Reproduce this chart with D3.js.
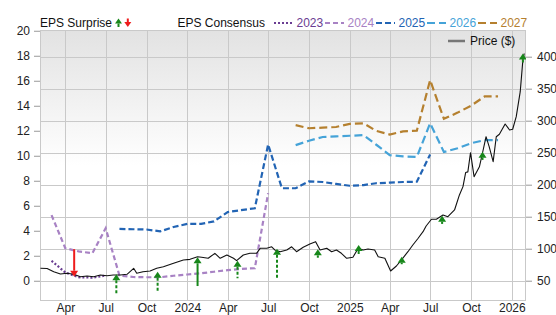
<!DOCTYPE html>
<html>
<head>
<meta charset="utf-8">
<script src="https://cdn.jsdelivr.net/npm/d3@7"></script>
<style>
  body { margin: 0; background: #fff; }
  svg { display: block; font-family: "Liberation Sans", Arial, sans-serif; }
</style>
</head>
<body>
<div id="chart"></div>
<script>
const parse = d3.timeParse("%Y-%m-%d");

// weekly-ish closing price ($)
const priceData = [
  ["2023-02-04",69.4],["2023-02-19",69],["2023-03-06",64],["2023-03-21",60.5],["2023-04-05",61.6],
  ["2023-04-20",60],["2023-05-05",56.3],["2023-05-20",57.3],["2023-06-04",56.3],["2023-06-19",59],
  ["2023-07-04",57.8],["2023-07-18",59],["2023-08-03",59],["2023-08-18",60],["2023-09-02",69.4],
  ["2023-09-09",61.6],["2023-09-23",64],["2023-10-09",65.2],["2023-10-24",69.4],["2023-11-08",71.9],
  ["2023-12-01",77.2],["2023-12-23",82.3],["2024-01-07",83.4],["2024-01-24",87.5],["2024-02-02",86.6],
  ["2024-02-17",85],["2024-03-03",92.8],["2024-03-15",85],["2024-03-30",90.2],["2024-04-14",85],
  ["2024-04-21",81.3],["2024-05-06",90.2],["2024-05-21",92.8],["2024-06-05",92.8],["2024-06-13",100.6],
  ["2024-06-28",100.6],["2024-07-09",103],["2024-07-16",98],["2024-07-28",95.3],["2024-08-12",98],
  ["2024-08-23",103],["2024-09-03",95.3],["2024-09-18",102.2],["2024-10-03",107.3],["2024-10-16",111],
  ["2024-10-26",98],["2024-11-10",100.6],["2024-11-21",95.3],["2024-12-02",98],["2024-12-13",92.8],
  ["2024-12-25",85],["2025-01-08",86.6],["2025-01-20",100.6],["2025-01-31",98],["2025-02-11",99.5],
  ["2025-02-26",98],["2025-03-06",87.5],["2025-03-21",85],["2025-04-03",65.2],["2025-04-16",73],
  ["2025-04-27",82.3],["2025-05-12",95.3],["2025-05-23",105.8],["2025-06-04",116.3],["2025-06-15",126.6],
  ["2025-06-22",135.5],["2025-07-04",146],["2025-07-15",146],["2025-07-30",152.7],["2025-08-10",150],
  ["2025-08-25",160.5],["2025-09-05",184],["2025-09-13",197],["2025-09-19",219],["2025-09-24",220],
  ["2025-09-30",250],["2025-10-08",212.5],["2025-10-20",228],["2025-10-26",246.4],["2025-11-04",275],
  ["2025-11-11",259.4],["2025-11-20",236],["2025-11-27",275],["2025-12-04",278.8],["2025-12-17",294.8],
  ["2025-12-27",285.5],["2026-01-03",286.6],["2026-01-11",306.3],["2026-01-20",345.3],["2026-01-26",395],
  ["2026-01-29",405]
];

// monthly EPS consensus per fiscal year
const eps2023 = [["2023-03-01",1.6],["2023-04-01",0.66],["2023-05-01",0.28],["2023-06-01",0.25],["2023-07-01",0.42]];
const eps2024 = [
  ["2023-03-01",5.25],["2023-04-01",2.6],["2023-05-01",2.35],["2023-06-01",2.2],["2023-07-01",4.2],
  ["2023-08-01",0.42],["2023-09-01",0.3],["2023-10-01",0.28],["2023-11-01",0.28],["2023-12-01",0.4],
  ["2024-01-01",0.5],["2024-02-01",0.6],["2024-03-01",0.72],["2024-04-01",0.85],["2024-05-01",0.95],
  ["2024-06-01",1.0],["2024-07-01",7.0]
];
const eps2025 = [
  ["2023-08-01",4.15],["2023-09-01",4.12],["2023-10-01",4.1],["2023-11-01",3.95],["2023-12-01",4.3],
  ["2024-01-01",4.55],["2024-02-01",4.55],["2024-03-01",4.75],["2024-04-01",5.5],["2024-05-01",5.65],
  ["2024-06-01",5.8],["2024-07-01",10.9],["2024-08-01",7.4],["2024-09-01",7.4],["2024-10-01",7.95],
  ["2024-11-01",7.9],["2024-12-01",7.75],["2025-01-01",7.6],["2025-02-01",7.65],["2025-03-01",7.8],
  ["2025-04-01",7.85],["2025-05-01",7.9],["2025-06-01",7.92],["2025-07-01",10.1]
];
const eps2026 = [
  ["2024-09-01",10.85],["2024-10-01",11.2],["2024-11-01",11.5],["2024-12-01",11.55],["2025-01-01",11.6],
  ["2025-02-01",11.65],["2025-03-01",10.9],["2025-04-01",10.05],["2025-05-01",9.95],["2025-06-01",9.9],
  ["2025-07-01",12.6],["2025-08-01",10.3],["2025-09-01",10.6],["2025-10-01",11.0],["2025-11-01",11.25],
  ["2025-12-01",11.25]
];
const eps2027 = [
  ["2024-09-01",12.45],["2024-10-01",12.2],["2024-11-01",12.25],["2024-12-01",12.3],["2025-01-01",12.55],
  ["2025-02-01",12.6],["2025-03-01",12.0],["2025-04-01",11.7],["2025-05-01",11.95],["2025-06-01",12.0],
  ["2025-07-01",16.05],["2025-08-01",12.95],["2025-09-01",13.45],["2025-10-01",14.0],["2025-11-01",14.75],
  ["2025-12-01",14.75]
];

// EPS surprises: date, price at arrow tip, size (EPS units), beat?, dashed stem?
const surprises = [
  ["2023-04-21",56.3,2.2,false,false],
  ["2023-07-25",60,1.52,true,true],
  ["2023-10-26",64,1.52,true,true],
  ["2024-01-24",86.6,2.3,true,false],
  ["2024-04-23",81.3,1.41,true,true],
  ["2024-07-21",100,2.32,true,true],
  ["2024-10-21",99,0.67,true,false],
  ["2025-01-21",105.8,0.72,true,false],
  ["2025-04-28",87.5,0.6,true,false],
  ["2025-07-28",151.6,0.66,true,false],
  ["2025-10-27",251.6,0.66,true,false],
  ["2026-01-26",405,0.72,true,false]
];

const xTickDates = ["2023-04-01","2023-07-01","2023-10-01","2024-01-01","2024-04-01","2024-07-01",
  "2024-10-01","2025-01-01","2025-04-01","2025-07-01","2025-10-01","2026-01-01"];
const xTickLabels = ["Apr","Jul","Oct","2024","Apr","Jul","Oct","2025","Apr","Jul","Oct","2026"];
const leftTicks = [0,2,4,6,8,10,12,14,16,18,20];
const rightTicks = [50,100,150,200,250,300,350,400];

const W = 556, H = 315;
const plot = { left: 40, right: 526, top: 30, bottom: 301 };

const series = [
  { name: "2023", data: eps2023, color: "#6a3d92", dash: "2,2" },
  { name: "2024", data: eps2024, color: "#a882c4", dash: "5,3" },
  { name: "2025", data: eps2025, color: "#2264b4", dash: "6,3" },
  { name: "2026", data: eps2026, color: "#45a3d8", dash: "8,4" },
  { name: "2027", data: eps2027, color: "#b5802f", dash: "8,4" }
];

const svg = d3.select("#chart").append("svg")
  .attr("width", W).attr("height", H);

const x = d3.scaleTime()
  .domain([parse("2023-02-03"), parse("2026-02-02")])
  .range([plot.left, plot.right]);
const yL = d3.scaleLinear().domain([-1.62, 20.06]).range([plot.bottom, plot.top]);
const yR = d3.scaleLinear().domain([18.3, 441.7]).range([plot.bottom, plot.top]);

// background gradient
const defs = svg.append("defs");
const grad = defs.append("linearGradient").attr("id", "bg").attr("x1", 0).attr("x2", 0).attr("y1", 0).attr("y2", 1);
grad.append("stop").attr("offset", "0%").attr("stop-color", "#e2e2e2");
grad.append("stop").attr("offset", "50%").attr("stop-color", "#ffffff");
defs.append("clipPath").attr("id", "clip").append("rect")
  .attr("x", plot.left).attr("y", plot.top)
  .attr("width", plot.right - plot.left).attr("height", plot.bottom - plot.top);

svg.append("rect")
  .attr("x", plot.left).attr("y", plot.top)
  .attr("width", plot.right - plot.left).attr("height", plot.bottom - plot.top)
  .attr("fill", "url(#bg)");

// grid
const grid = svg.append("g").attr("stroke", "#c9c9c9").attr("stroke-width", 1);
grid.selectAll(".h").data(rightTicks).join("line")
  .attr("x1", plot.left).attr("x2", plot.right)
  .attr("y1", d => Math.round(yR(d)) + 0.5).attr("y2", d => Math.round(yR(d)) + 0.5);
grid.selectAll(".v").data(xTickDates).join("line")
  .attr("y1", plot.top).attr("y2", plot.bottom)
  .attr("x1", d => Math.round(x(parse(d))) + 0.5).attr("x2", d => Math.round(x(parse(d))) + 0.5);
svg.append("rect")
  .attr("x", plot.left + 0.5).attr("y", plot.top + 0.5)
  .attr("width", plot.right - plot.left - 1).attr("height", plot.bottom - plot.top - 1)
  .attr("fill", "none").attr("stroke", "#c9c9c9");

// axes
function styleAxis(g) {
  g.select(".domain").remove();
  g.selectAll(".tick line").attr("stroke", "#999");
  g.selectAll(".tick text").attr("fill", "#222").attr("font-size", 12)
    .attr("font-family", "'Liberation Sans', Arial, sans-serif");
}
svg.append("g").attr("transform", `translate(${plot.left},0)`)
  .call(d3.axisLeft(yL).tickValues(leftTicks).tickSize(6).tickPadding(4))
  .call(styleAxis);
svg.append("g").attr("transform", `translate(${plot.right},0)`)
  .call(d3.axisRight(yR).tickValues(rightTicks).tickSize(6).tickPadding(5))
  .call(styleAxis);
svg.append("g").attr("transform", `translate(0,${plot.bottom})`)
  .call(d3.axisBottom(x).tickValues(xTickDates.map(parse)).tickSize(0).tickPadding(2)
    .tickFormat((d, i) => xTickLabels[i]))
  .call(styleAxis);

const chart = svg.append("g").attr("clip-path", "url(#clip)");

// EPS consensus lines
const epsLine = d3.line().x(d => x(parse(d[0]))).y(d => yL(d[1]));
chart.selectAll(".eps").data(series).join("path")
  .attr("d", s => epsLine(s.data))
  .attr("fill", "none")
  .attr("stroke", s => s.color)
  .attr("stroke-width", 2.2)
  .attr("stroke-dasharray", s => s.dash);

// price line
const priceLine = d3.line().x(d => x(parse(d[0]))).y(d => yR(d[1]));
chart.append("path").datum(priceData)
  .attr("d", priceLine)
  .attr("fill", "none")
  .attr("stroke", "#111")
  .attr("stroke-width", 1.1)
  .attr("stroke-linejoin", "round");

// surprise arrows
function arrow(g, cx, tip, tail, up, dashed, color, headW, headH) {
  const dir = up ? 1 : -1;   // up arrow: tail below tip
  g.append("line")
    .attr("x1", cx).attr("x2", cx)
    .attr("y1", tip + dir * headH).attr("y2", tail)
    .attr("stroke", color).attr("stroke-width", 2)
    .attr("stroke-dasharray", dashed ? "3,2" : null);
  g.append("path")
    .attr("d", `M${cx},${tip}L${cx - headW / 2},${tip + dir * headH}L${cx + headW / 2},${tip + dir * headH}Z`)
    .attr("fill", color);
}
const arrows = chart.append("g");
surprises.forEach(s => {
  const cx = x(parse(s[0]));
  const tip = yR(s[1]);
  const len = yL(0) - yL(s[2]);
  const up = s[3];
  const tail = up ? tip + len : tip - len;
  arrow(arrows, cx, tip, tail, up, s[4], up ? "#17871a" : "#ee1c1c", 8, 6);
});

// legend
const legend = svg.append("g").attr("font-size", 12);
legend.append("text").attr("x", 40).attr("y", 27).attr("fill", "#111").text("EPS Surprise");
arrow(legend, 118.5, 18.5, 27, true, false, "#17871a", 7, 5);
arrow(legend, 127.8, 27, 18.5, false, false, "#ee1c1c", 7, 5);
legend.append("text").attr("x", 177.5).attr("y", 27).attr("fill", "#111").text("EPS Consensus");

let lx = 274;
series.forEach(s => {
  legend.append("line")
    .attr("x1", lx).attr("x2", lx + 19).attr("y1", 23).attr("y2", 23)
    .attr("stroke", s.color).attr("stroke-width", 2.2).attr("stroke-dasharray", s.dash);
  legend.append("text").attr("x", lx + 22.5).attr("y", 27).attr("fill", s.color).text(s.name);
  lx += 51;
});

legend.append("line")
  .attr("x1", 448).attr("x2", 465).attr("y1", 41).attr("y2", 41)
  .attr("stroke", "#777").attr("stroke-width", 2.5);
legend.append("text").attr("x", 470).attr("y", 45).attr("fill", "#111").text("Price ($)");
</script>
</body>
</html>
